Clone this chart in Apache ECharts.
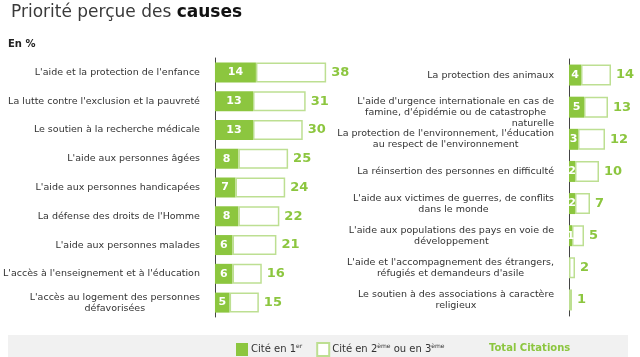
<!DOCTYPE html>
<html>
<head>
<meta charset="utf-8">
<script src="https://cdn.jsdelivr.net/npm/echarts@6/dist/echarts.min.js"></script>
<style>
html,body{margin:0;padding:0;background:#fff;}
#c{width:640px;height:357px;}
</style>
</head>
<body>
<div id="c"></div>
<script>
// ---- data ----
var leftCategories = [
  "L'aide et la protection de l'enfance",
  "La lutte contre l'exclusion et la pauvreté",
  "Le soutien à la recherche médicale",
  "L'aide aux personnes âgées",
  "L'aide aux personnes handicapées",
  "La défense des droits de l'Homme",
  "L'aide aux personnes malades",
  "L'accès à l'enseignement et à l'éducation",
  "L'accès au logement des personnes\ndéfavorisées"
];
var leftFirst = [14, 13, 13, 8, 7, 8, 6, 6, 5];
var leftTotal = [38, 31, 30, 25, 24, 22, 21, 16, 15];

var rightCategories = [
  "La protection des animaux",
  "L'aide d'urgence internationale en cas de\nfamine, d'épidémie ou de catastrophe\nnaturelle",
  "La protection de l'environnement, l'éducation\nau respect de l'environnement",
  "La réinsertion des personnes en difficulté",
  "L'aide aux victimes de guerres, de conflits\ndans le monde",
  "L'aide aux populations des pays en voie de\ndéveloppement",
  "L'aide et l'accompagnement des étrangers,\nréfugiés et demandeurs d'asile",
  "Le soutien à des associations à caractère\nreligieux"
];
var rightFirst = [4, 5, 3, 2, 2, 1, 0, 0];
var rightTotal = [14, 13, 12, 10, 7, 5, 2, 1];

var seriesNames = ["Cité en 1er", "Cité en 2ème ou en 3ème"];
var totalLabel = "Total Citations";

// ---- style ----
var FONT = "DejaVu Sans";
var GREEN = "#8cc63f";
var LIGHT = "#bddf92";
var TEXT = "#333333";

function rest(first, total) {
  return total.map(function (t, i) { return t - first[i]; });
}

function catLabelFormatter(v) {
  var lines = v.split("\n");
  if (lines.length === 3) {
    // reference: 3-line block sits a little lower, last word pushed right
    return "{c| }\n{c|" + lines[0] + "}\n{c|" + lines[1] + "}\n{r|" + lines[2] + "}";
  }
  return lines.map(function (l) { return "{c|" + l + "}"; }).join("\n");
}

function makeYAxis(gridIndex, cats) {
  var base = { fontFamily: FONT, fontSize: 9.5, lineHeight: 11, color: TEXT };
  return {
    type: "category",
    gridIndex: gridIndex,
    data: cats,
    inverse: true,
    axisLine: { show: true, lineStyle: { color: "#444", width: 1 } },
    axisTick: { show: false },
    axisLabel: {
      margin: 15,
      align: "right",
      formatter: catLabelFormatter,
      rich: {
        c: Object.assign({ align: "center" }, base),
        r: Object.assign({ align: "right" }, base)
      }
    }
  };
}

function makeXAxis(gridIndex, max) {
  return { type: "value", gridIndex: gridIndex, min: 0, max: max, show: false };
}

function makeSeries(idx, first, total, barW) {
  return [
    {
      name: seriesNames[0],
      type: "bar",
      xAxisIndex: idx, yAxisIndex: idx,
      stack: "s" + idx,
      barWidth: barW,
      data: first,
      itemStyle: { color: GREEN },
      label: {
        show: true, position: "inside",
        color: "#fff", fontFamily: FONT, fontWeight: "bold", fontSize: 11,
        formatter: function (p) { return p.value > 0 ? String(p.value) : ""; }
      },
      silent: true
    },
    {
      name: seriesNames[1],
      type: "bar",
      xAxisIndex: idx, yAxisIndex: idx,
      stack: "s" + idx,
      barWidth: barW,
      data: rest(first, total),
      itemStyle: { color: "#ffffff", borderColor: LIGHT, borderWidth: 1.5 },
      label: {
        show: true, position: "right", distance: 5,
        color: GREEN, fontFamily: FONT, fontWeight: "bold", fontSize: 13,
        formatter: function (p) { return String(total[p.dataIndex]); }
      },
      silent: true
    }
  ];
}

var chart = echarts.init(document.getElementById("c"), null, { renderer: "canvas" });

var option = {
  animation: false,
  backgroundColor: "#ffffff",
  title: {
    text: "{n|Priorité perçue des }{b|causes}",
    left: 6, top: -1,
    textStyle: {
      fontWeight: "normal",
      rich: {
        n: { fontFamily: FONT, fontSize: 17, fontWeight: "normal", color: "#3a3a3a" },
        b: { fontFamily: FONT, fontSize: 17, fontWeight: "bold", color: "#111" }
      }
    }
  },
  grid: [
    { left: 212, top: 58, width: 120, height: 259 },
    { left: 569, top: 59, width: 60, height: 257 }
  ],
  xAxis: [makeXAxis(0, 40), makeXAxis(1, 20)],
  yAxis: [makeYAxis(0, leftCategories), makeYAxis(1, rightCategories)],
  legend: {
    left: 236, top: 342,
    padding: 0,
    icon: "rect",
    itemWidth: 12, itemHeight: 13, itemGap: 14,
    data: seriesNames,
    selectedMode: false,
    formatter: function (name) {
      if (name === seriesNames[0]) return "{t|Cité en 1}{s|er}";
      return "{t|Cité en 2}{s|ème}{t| ou en 3}{s|ème}";
    },
    textStyle: {
      padding: [0, 0, 0, -2],
      rich: {
        t: { fontFamily: FONT, fontSize: 10, color: TEXT, lineHeight: 13 },
        s: { fontFamily: FONT, fontSize: 6, color: TEXT, verticalAlign: "top", lineHeight: 13 }
      }
    }
  },
  graphic: [
    { type: "rect", z: -10, shape: { x: 8, y: 335, width: 620, height: 22 }, style: { fill: "#f1f1f1" } },
    { type: "text", left: 8, top: 39, style: { text: "En %", fontFamily: FONT, fontSize: 10, fontWeight: "bold", fill: "#222" } },
    { type: "text", left: 489, top: 343, style: { text: totalLabel, fontFamily: FONT, fontSize: 10, fontWeight: "bold", fill: GREEN } }
  ],
  series: [].concat(makeSeries(0, leftFirst, leftTotal, 20), makeSeries(1, rightFirst, rightTotal, 21))
};

chart.setOption(option);
</script>
</body>
</html>
